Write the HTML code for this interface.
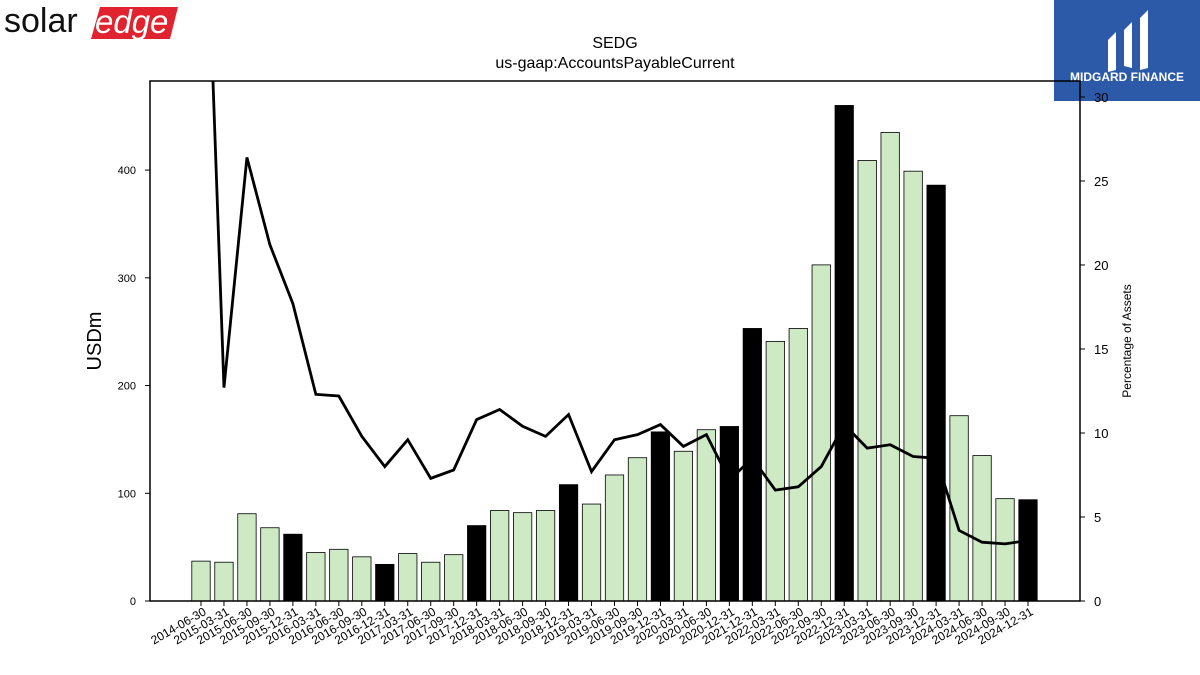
<!DOCTYPE html>
<html><head><meta charset="utf-8"><style>
body{margin:0;background:#fff;width:1200px;height:675px;overflow:hidden;font-family:"Liberation Sans","DejaVu Sans",sans-serif}
svg{display:block}
</style></head><body>
<svg id="chart" width="1200" height="675" xmlns="http://www.w3.org/2000/svg">
<g>
<text x="4" y="32" font-size="34" font-family="Liberation Sans, sans-serif" fill="#111">solar</text>
<polygon points="100,7 178,7 170,39 91,39" fill="#e0232e"/>
<text x="95" y="33" font-size="33" font-style="italic" fill="#fff">edge</text>
</g>
<g>
<rect x="1054" y="0" width="146" height="101" fill="#2c5aa8"/>
<path d="M1108,40 L1116,32 L1116,70 L1108,72 Z M1124,30 L1132,22 L1132,68 L1124,66 Z M1140,18 L1148,10 L1148,68 L1140,70 Z" fill="#fff"/>
<text x="1127" y="81" font-size="12" font-weight="bold" fill="#fff" text-anchor="middle">MIDGARD FINANCE</text>
</g>
<text x="615" y="48" font-size="16" text-anchor="middle">SEDG</text>
<text x="615" y="68" font-size="16" text-anchor="middle">us-gaap:AccountsPayableCurrent</text>
<g id="bars"></g>
<g id="line"></g>
<g id="axes"></g>
<rect x="150" y="81" width="930" height="520" fill="none" stroke="#000" stroke-width="1.5"/>
<text transform="translate(101,341) rotate(-90)" font-size="20" text-anchor="middle">USDm</text>
<text transform="translate(1131,341) rotate(-90)" font-size="12" text-anchor="middle">Percentage of Assets</text>
</svg>
<script>
const categories=["2014-06-30","2015-03-31","2015-06-30","2015-09-30","2015-12-31","2016-03-31","2016-06-30","2016-09-30","2016-12-31","2017-03-31","2017-06-30","2017-09-30","2017-12-31","2018-03-31","2018-06-30","2018-09-30","2018-12-31","2019-03-31","2019-06-30","2019-09-30","2019-12-31","2020-03-31","2020-06-30","2020-12-31","2021-12-31","2022-03-31","2022-06-30","2022-09-30","2022-12-31","2023-03-31","2023-06-30","2023-09-30","2023-12-31","2024-03-31","2024-06-30","2024-09-30","2024-12-31"];
const payables=[37,36,81,68,62,45,48,41,34,44,36,43,70,84,82,84,108,90,117,133,157,139,159,162,253,241,253,312,460,409,435,399,386,172,135,95,94];
const pctAssets=[50.8,12.7,26.4,21.2,17.7,12.3,12.2,9.8,8.0,9.6,7.3,7.8,10.8,11.4,10.4,9.8,11.1,7.7,9.6,9.9,10.5,9.2,9.9,7.2,8.5,6.6,6.8,8.0,10.5,9.1,9.3,8.6,8.5,4.2,3.5,3.4,3.6];
const leftTicks=[0,100,200,300,400];
const rightTicks=[0,5,10,15,20,25,30];
const NS="http://www.w3.org/2000/svg";
const X0=150,X1=1080,Y0=601,Y1=81;
const firstX=201,step=(1028-201)/36;
const xPos=i=>firstX+i*step;
const yL=v=>Y0-v*(Y0-Y1)/482.7;
const yR=v=>Y0-v*(Y0-Y1)/30.95;
function mk(t,a,p){const e=document.createElementNS(NS,t);for(const k in a)e.setAttribute(k,a[k]);p.appendChild(e);return e;}
const bars=document.getElementById('bars'),line=document.getElementById('line'),axes=document.getElementById('axes');
categories.forEach((c,i)=>{
  const q4=c.endsWith('12-31');
  const top=yL(payables[i]);
  const r=mk('rect',{x:xPos(i)-9.2,y:top,width:18.4,height:Y0-top,fill:q4?'#000':'#cdeac4',stroke:'#000','stroke-width':0.8},bars);
  
  
  const t=mk('line',{x1:xPos(i),x2:xPos(i),y1:Y0,y2:Y0+5,stroke:'#000'},axes);
  
  
  const l=mk('text',{transform:`translate(${xPos(i)+6},${Y0+13}) rotate(-30)`,'font-size':12,'text-anchor':'end'},axes);
  l.textContent=c;
  
  
});
const clip=mk('clipPath',{id:'pc'},line);mk('rect',{x:X0,y:Y1,width:X1-X0,height:Y0-Y1},clip);
const pts=pctAssets.map((v,i)=>xPos(i)+','+yR(v)).join(' ');
const pl=mk('polyline',{points:pts,fill:'none',stroke:'#000','stroke-width':2.8,'clip-path':'url(#pc)'},line);


leftTicks.forEach(v=>{
  const t=mk('line',{x1:X0-5,x2:X0,y1:yL(v),y2:yL(v),stroke:'#000'},axes);
  
  
  const l=mk('text',{x:X0-14,y:yL(v)+4,'font-size':11,'text-anchor':'end'},axes);
  l.textContent=v;
  
  
});
rightTicks.forEach(v=>{
  const t=mk('line',{x1:X1,x2:X1+5,y1:yR(v),y2:yR(v),stroke:'#000'},axes);
  
  
  const l=mk('text',{x:X1+14,y:yR(v)+5,'font-size':13},axes);
  l.textContent=v;
  
  
});
</script>
</body></html>
